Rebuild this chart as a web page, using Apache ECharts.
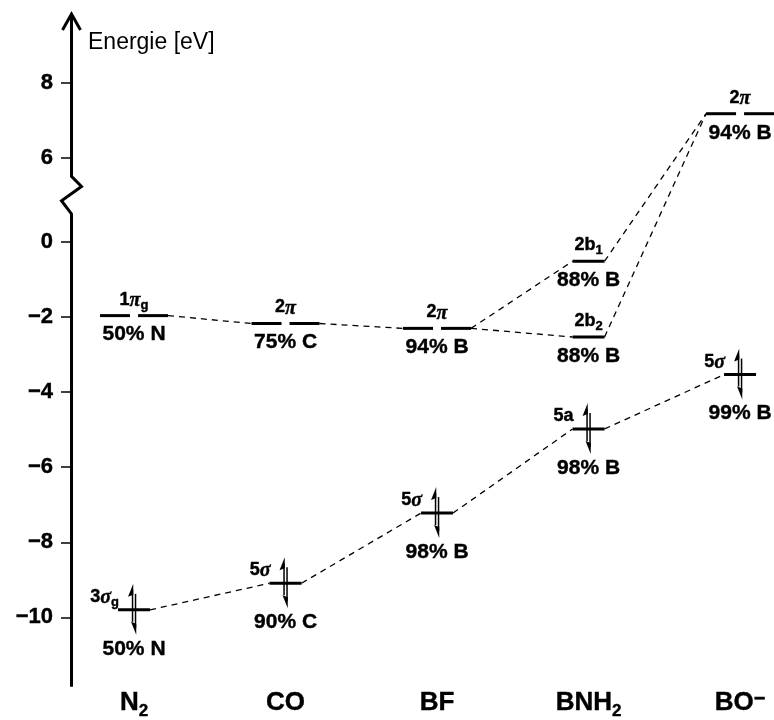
<!DOCTYPE html>
<html><head><meta charset="utf-8">
<script src="https://cdn.jsdelivr.net/npm/echarts@6.0.0/dist/echarts.min.js"></script>
<style>html,body{margin:0;padding:0;background:#fff}#c{width:774px;height:720px}</style>
</head><body><div id="c"></div><script>
// ---------- data ----------
const molecules = ['N_2', 'CO', 'BF', 'BNH_2', 'BO^−'];
const yTicks = [-10, -8, -6, -4, -2, 0, 6, 8];
const yName = 'Energie [eV]';

// empty (acceptor) orbitals
const emptyMol = [0, 1, 2, 3, 3, 4];
const emptyEnergy = [-1.96, -2.17, -2.30, -0.51, -2.53, 7.17];
const emptyName = ['1π_g', '2π', '2π', '2b_1', '2b_2', '2π'];
const emptyDegenerate = [1, 1, 1, 0, 0, 1];
const emptyShare = ['50% N', '75% C', '94% B', '88% B', '88% B', '94% B'];
const emptyLinks = [[0, 1], [1, 2], [2, 3], [2, 4], [3, 5], [4, 5]];

// occupied (donor) orbitals
const filledMol = [0, 1, 2, 3, 4];
const filledEnergy = [-9.80, -9.09, -7.22, -4.98, -3.53];
const filledName = ['3σ_g', '5σ', '5σ', '5a', '5σ'];
const filledShare = ['50% N', '90% C', '98% B', '98% B', '99% B'];
const filledLinks = [[0, 1], [1, 2], [2, 3], [3, 4]];

// axis ranges / break
const yRange = [-11.85, 9.8];
const xRange = [-0.416, 4.224];
const axisBreak = { start: 0.75, end: 5.5, gap: 1 };

// ---------- style ----------
const FONT = '"Liberation Sans", Arial, Helvetica, sans-serif';
const DEG_HALF = 34, DEG_GAP = 4, SINGLE_HALF = 16;
const LEVEL_W = 3;
const INK = { color: '#000', textBorderColor: '#000', textBorderWidth: 0.4 };

function orbRich(s) {
  let out = '';
  for (let i = 0; i < s.length; i++) {
    const c = s[i];
    if (c === '_') { out += '{s|' + s[++i] + '}'; }
    else if (/[α-ω]/.test(c)) { out += '{g|' + c + '}'; }
    else { out += '{n|' + c + '}'; }
  }
  return out;
}
function molRich(s) {
  let out = '';
  for (let i = 0; i < s.length; i++) {
    const c = s[i];
    if (c === '_') { out += '{sub|' + s[++i] + '}'; }
    else if (c === '^') { out += '{sup|' + s[++i] + '}'; }
    else { out += '{m|' + c + '}'; }
  }
  return out;
}
const orbRichStyle = {
  n: Object.assign({ fontSize: 18, fontWeight: 'bold', fontFamily: FONT, lineHeight: 20, verticalAlign: 'top' }, INK),
  g: { fontSize: 20, fontStyle: 'italic', fontFamily: '"Liberation Serif", "DejaVu Serif", serif', color: '#000', lineHeight: 20, verticalAlign: 'top' },
  s: Object.assign({ fontSize: 13, fontWeight: 'bold', fontFamily: FONT, lineHeight: 13, padding: [8, 0, 0, 0], verticalAlign: 'top' }, INK)
};

function levelRender(mols, degenerate, occupied) {
  return function (params, api) {
    const i = params.dataIndex;
    const p = api.coord([api.value(0), api.value(1)]);
    const cx = p[0], cy = p[1];
    const kids = [];
    const ls = { stroke: '#000', lineWidth: LEVEL_W };
    if (degenerate && degenerate[i]) {
      kids.push({ type: 'line', shape: { x1: cx - DEG_HALF, y1: cy, x2: cx - DEG_GAP, y2: cy }, style: ls });
      kids.push({ type: 'line', shape: { x1: cx + DEG_GAP, y1: cy, x2: cx + DEG_HALF, y2: cy }, style: ls });
    } else {
      kids.push({ type: 'line', shape: { x1: cx - SINGLE_HALF, y1: cy, x2: cx + SINGLE_HALF, y2: cy }, style: ls });
    }
    if (occupied) {
      const ux = cx - 1.5, dx = cx + 1.5;
      const as = { stroke: '#000', lineWidth: 1.5 };
      kids.push({ type: 'line', shape: { x1: ux, y1: cy + 12, x2: ux, y2: cy - 20 }, style: as });
      kids.push({ type: 'polygon', shape: { points: [[ux + 0.7, cy - 26], [ux - 4.5, cy - 13], [ux + 0.7, cy - 15]] }, style: { fill: '#000' } });
      kids.push({ type: 'line', shape: { x1: dx, y1: cy - 16, x2: dx, y2: cy + 18 }, style: as });
      kids.push({ type: 'polygon', shape: { points: [[dx + 0.7, cy + 25], [dx - 4.5, cy + 12], [dx + 0.7, cy + 14]] }, style: { fill: '#000' } });
    }
    return { type: 'group', children: kids };
  };
}

function linkRender(halfA, halfB) {
  return function (params, api) {
    const i = params.dataIndex;
    const a = api.coord([api.value(0), api.value(1)]);
    const b = api.coord([api.value(2), api.value(3)]);
    return {
      type: 'line',
      shape: { x1: a[0] + halfA(i), y1: a[1], x2: b[0] - halfB(i), y2: b[1] },
      style: { stroke: '#000', lineWidth: 1.3, lineDash: [6, 5] }
    };
  };
}

const emptyLinkData = emptyLinks.map(([a, b]) => [emptyMol[a], emptyEnergy[a], emptyMol[b], emptyEnergy[b]]);
const filledLinkData = filledLinks.map(([a, b]) => [filledMol[a], filledEnergy[a], filledMol[b], filledEnergy[b]]);
const emptyData = emptyMol.map((m, i) => [m, emptyEnergy[i]]);
const filledData = filledMol.map((m, i) => [m, filledEnergy[i]]);

function labelSeries(data, formatter, offset, align, rich, fontSize) {
  return {
    type: 'scatter', data: data, symbolSize: 1, itemStyle: { color: 'rgba(0,0,0,0)' }, silent: true, clip: false, z: 5,
    label: Object.assign({
      show: true, position: 'inside', offset: offset, align: align, verticalAlign: 'middle', opacity: 1,
      formatter: formatter, fontFamily: FONT, fontWeight: 'bold', fontSize: fontSize || 21,
      rich: rich
    }, INK)
  };
}

const chart = echarts.init(document.getElementById('c'), null, { renderer: 'canvas' });
chart.setOption({
  animation: false,
  backgroundColor: '#fff',
  grid: { left: 71, right: 0, top: 15, bottom: 25, containLabel: false },
  xAxis: {
    type: 'value', min: xRange[0], max: xRange[1],
    axisLine: { show: false, onZero: false }, axisTick: { show: false }, splitLine: { show: false },
    axisLabel: {
      customValues: [0, 1, 2, 3, 4], margin: 3,
      formatter: v => molRich(molecules[Math.round(v)]),
      rich: {
        m: Object.assign({ fontSize: 26, fontWeight: 'bold', fontFamily: FONT, lineHeight: 28, verticalAlign: 'top' }, INK),
        sub: Object.assign({ fontSize: 17, fontWeight: 'bold', fontFamily: FONT, lineHeight: 17, padding: [13, 0, 0, 0], verticalAlign: 'top' }, INK),
        sup: Object.assign({ fontSize: 20, fontWeight: 'bold', fontFamily: FONT, lineHeight: 16, padding: [0, 0, 0, 0], verticalAlign: 'top' }, INK)
      }
    }
  },
  yAxis: {
    type: 'value', min: yRange[0], max: yRange[1],
    breaks: [axisBreak],
    breakArea: { show: false, expandOnClick: false },
    axisLine: { show: false, onZero: false }, splitLine: { show: false },
    axisTick: { show: true, length: 10, customValues: yTicks, lineStyle: { color: '#000', width: 1.5 } },
    axisLabel: Object.assign({
      customValues: yTicks, margin: 18, fontFamily: FONT, fontWeight: 'bold', fontSize: 22,
      formatter: v => (v < 0 ? '−' + Math.abs(v) : String(v))
    }, INK),
    name: yName, nameLocation: 'end', nameGap: -28,
    nameTextStyle: { align: 'left', verticalAlign: 'middle', padding: [0, 0, 0, 17], fontSize: 23, fontFamily: FONT, color: '#000' }
  },
  series: [
    { // axis line with break zig-zag and arrow
      type: 'custom', silent: true, clip: false, z: 3,
      data: [[xRange[0], yRange[0]]],
      renderItem: function (params, api) {
        const b = api.coord([xRange[0], yRange[0]]);
        const t = api.coord([xRange[0], yRange[1]]);
        const bs = api.coord([xRange[0], axisBreak.start]);
        const be = api.coord([xRange[0], axisBreak.end]);
        const x = b[0] + 0.5, h = bs[1] - be[1];
        const st = { stroke: '#000', lineWidth: 3, fill: null, lineJoin: 'miter' };
        return { type: 'group', children: [
          { type: 'polyline', shape: { points: [[x, b[1]], [x, bs[1]], [x - 10, be[1] + h * 0.65], [x + 10, be[1] + h * 0.27], [x, be[1]], [x, t[1] - 1]] }, style: st },
          { type: 'polyline', shape: { points: [[x - 9, t[1] + 15], [x, t[1] - 1], [x + 9, t[1] + 15]] }, style: st }
        ] };
      }
    },
    { type: 'custom', silent: true, clip: false, z: 2, data: emptyLinkData, encode: { x: [0, 2], y: [1, 3] },
      renderItem: linkRender(i => emptyDegenerate[emptyLinks[i][0]] ? DEG_HALF : SINGLE_HALF,
                             i => emptyDegenerate[emptyLinks[i][1]] ? DEG_HALF : SINGLE_HALF) },
    { type: 'custom', silent: true, clip: false, z: 2, data: filledLinkData, encode: { x: [0, 2], y: [1, 3] },
      renderItem: linkRender(() => SINGLE_HALF, () => SINGLE_HALF) },
    { type: 'custom', silent: true, clip: false, z: 4, data: emptyData, encode: { x: 0, y: 1 },
      renderItem: levelRender(emptyMol, emptyDegenerate, false) },
    { type: 'custom', silent: true, clip: false, z: 4, data: filledData, encode: { x: 0, y: 1 },
      renderItem: levelRender(filledMol, null, true) },
    labelSeries(emptyData, p => orbRich(emptyName[p.dataIndex]), [0, -15], 'center', orbRichStyle, 18),
    labelSeries(filledData, p => orbRich(filledName[p.dataIndex]), [-15, -12], 'right', orbRichStyle, 18),
    labelSeries(emptyData, p => emptyShare[p.dataIndex], [0, 19], 'center', null, 21),
    labelSeries(filledData, p => filledShare[p.dataIndex], [0, 39], 'center', null, 21)
  ]
});
</script></body></html>
